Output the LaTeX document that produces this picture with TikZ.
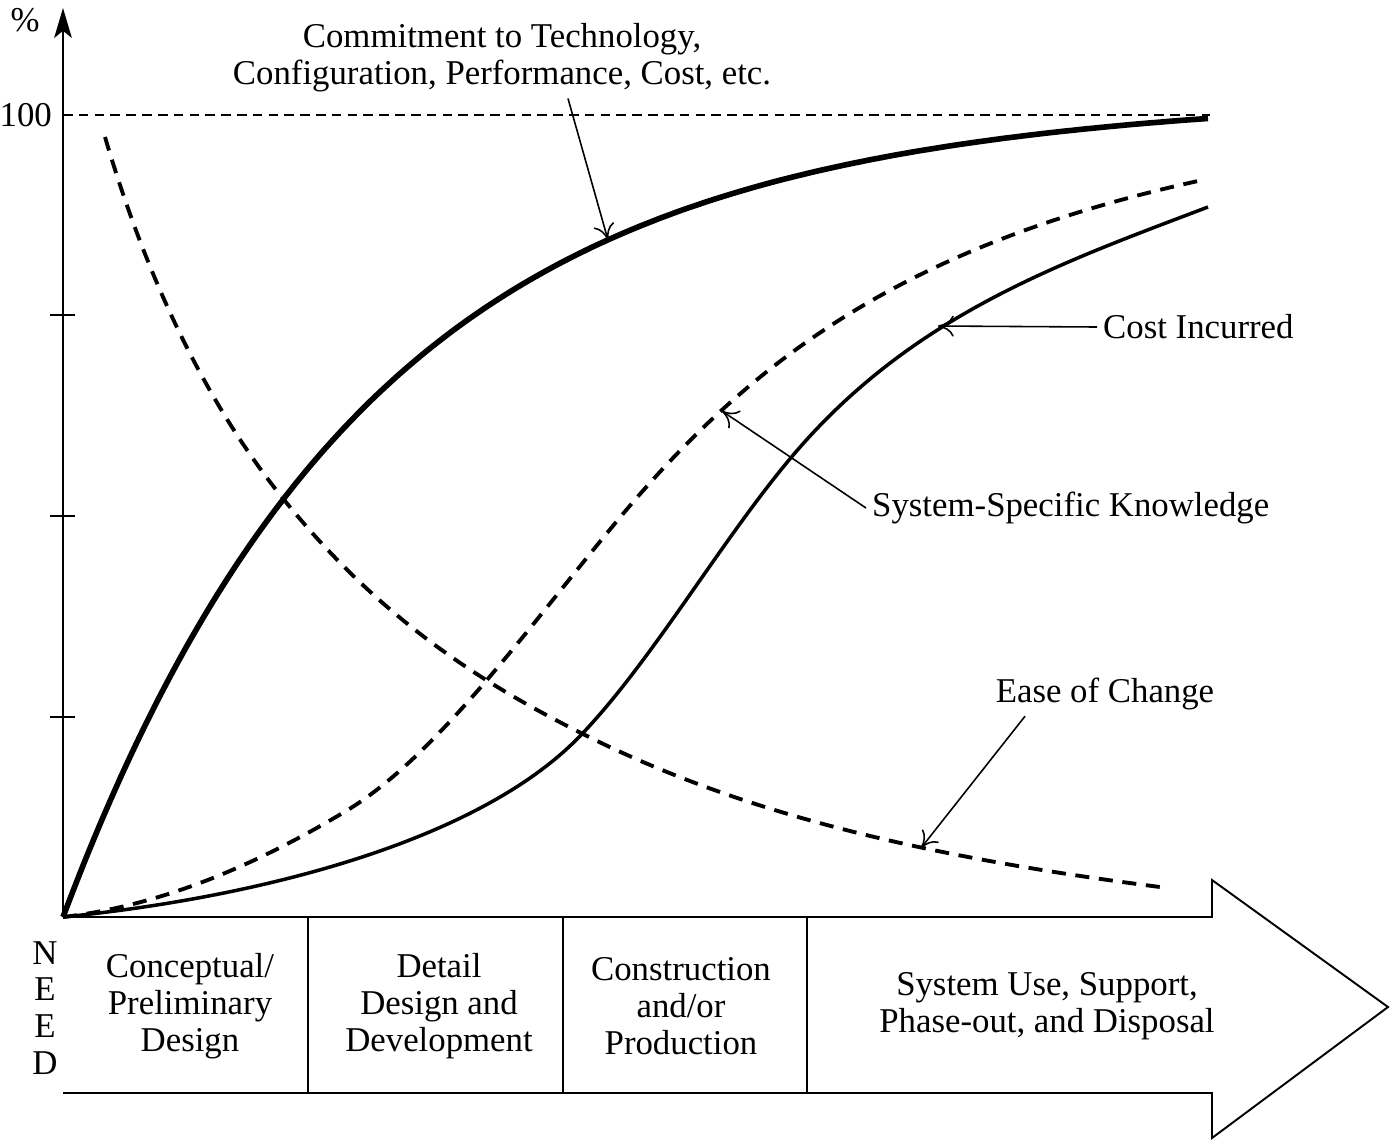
\documentclass[tikz,border=0pt]{standalone}
\usepackage{fontspec}
\setmainfont{Liberation Serif}
\usepackage{tikz}
\usetikzlibrary{arrows.meta,positioning}
\tikzstyle{axis} = [line width=1.4pt,-{Stealth[length=17pt,width=10pt,inset=4pt]}]
\tikzstyle{callout} = [line width=0.9pt,-{To[length=9pt,width=12pt]}]
\tikzstyle{commit} = [line width=3.2pt]
\tikzstyle{cost} = [line width=2pt]
\tikzstyle{curvedash} = [line width=2.2pt,dash pattern=on 8pt off 5.5pt]
\tikzstyle{phasebox} = [line width=1.1pt]
\tikzstyle{lbl} = [font=\fontsize{19.8}{21}\selectfont, align=center]

\begin{document}
\begin{tikzpicture}[x=0.02cm,y=-0.02cm]
\useasboundingbox (0,0) rectangle (1393,1144);

% axis and 100 line
\coordinate (O) at (63,917);
\coordinate (top) at (63,8);
\coordinate (full) at (1210,115);
\draw[axis] (O) -- (top);
\node[lbl] (pct) at (25,20) {\%};
\node[lbl, anchor=east] (hundred) at (58,115) {100};
\draw[line width=0.7pt, dash pattern=on 5.5pt off 3.5pt] (O |- full) -- (full);
\foreach \y in {315,516,717}
  \draw[phasebox] (50,\y) -- (75,\y);

% curves
\draw[commit] plot[domain=63:1208, samples=120, smooth] (\x,{917-805*(1-exp(-0.0033*(\x-63)))-0.0105*(\x-63)});
\draw[curvedash] (O) .. controls (158,906) and (251,868) .. (346,811)
  .. controls (436,757) and (527,629) .. (617,521)
  .. controls (747,365) and (898,247) .. (1198,181);
\draw[cost] (O) .. controls (263,897) and (481,840) .. (581,735)
  .. controls (651,662) and (719,544) .. (789,460)
  .. controls (909,316) and (1058,264) .. (1208,207);
\draw[curvedash] (105,137) .. controls (155,307) and (221,421) .. (281,496)
  .. controls (381,621) and (485,685) .. (585,735)
  .. controls (735,810) and (910,855) .. (1160,887);

\coordinate (commitTip) at (608,240);
\coordinate (costTip) at (938,326);
\coordinate (knowTip) at (722,411);
\coordinate (easeTip) at (921,848);

% curve labels
\node[lbl] (commitlbl) at (502,58) {Commitment to Technology,\\Configuration, Performance, Cost, etc.};
\node[lbl, anchor=west] (costlbl) at (1097,327) {Cost Incurred};
\node[lbl, anchor=west] (knowlbl) at (866,508) {System-Specific Knowledge};
\node[lbl] (easelbl) at (1105,694) {Ease of Change};

\draw[callout] ([xshift=1.32cm]commitlbl.south) -- (commitTip);
\draw[callout] (costlbl.west) -- (costTip);
\draw[callout] (knowlbl.west) -- (knowTip);
\draw[callout] ([xshift=-1.6cm]easelbl.south) -- (easeTip);

% life-cycle arrow
\draw[phasebox] (O) -- (1212,917) -- (1212,880) -- (1388,1007) -- (1212,1138) -- (1212,1093) -- (63,1093);
\foreach \x in {308,563,807}
  \draw[phasebox] (\x,917) -- (\x,1093);

\node[lbl] (need) at (45,1008) {N\\E\\E\\D};
\node[lbl] (concept) at (190,1006) {Conceptual/\\Preliminary\\Design};
\node[lbl] (detail) at (439,1006) {Detail\\Design and\\Development};
\node[lbl] (build) at (681,1006) {Construction\\and/or\\Production};
\node[lbl] (use) at (1047,1006) {System Use, Support,\\Phase-out, and Disposal};
\end{tikzpicture}
\end{document}
